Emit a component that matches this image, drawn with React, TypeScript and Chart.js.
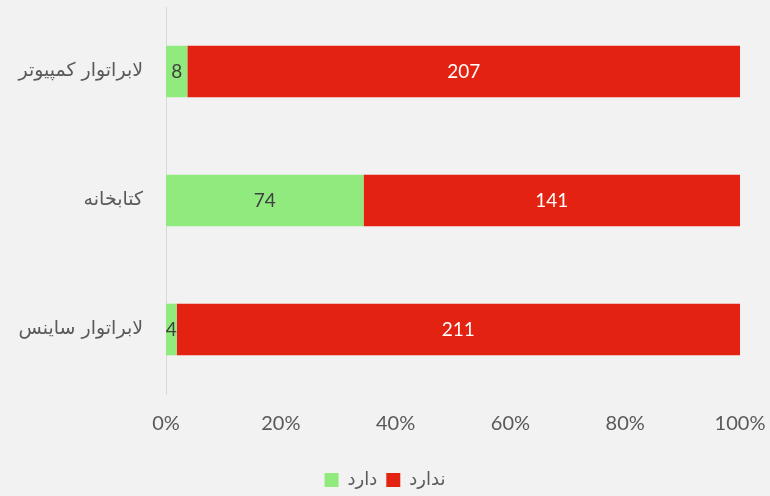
import React, { useEffect, useRef } from "react";
import { Chart, registerables } from "chart.js";

Chart.register(...registerables);

const categories = ["لابراتوار کمپیوتر", "کتابخانه", "لابراتوار ساینس"];
const hasValues = [8, 74, 4];
const notHasValues = [207, 141, 211];
const seriesNames = ["دارد", "ندارد"];
const xTicks = [0, 20, 40, 60, 80, 100];

const GREEN = "#90EA7E";
const RED = "#E42211";
const TEXT = "#595959";

const totals = hasValues.map((v, i) => v + notHasValues[i]);
const pct = (arr: number[]) => arr.map((v, i) => (v / totals[i]) * 100);

const labelPlugin = {
  id: "segLabels",
  afterLayout(chart: any) {
    if (chart.legend) {
      chart.legend.left += 15;
      chart.legend.right += 15;
      chart.legend.top += 3;
      chart.legend.bottom += 3;
    }
  },
  afterDatasetsDraw(chart: any) {
    const ctx = chart.ctx;
    const raw = [hasValues, notHasValues];
    chart.data.datasets.forEach((ds: any, di: number) => {
      const meta = chart.getDatasetMeta(di);
      meta.data.forEach((el: any, i: number) => {
        const cx = (el.x + el.base) / 2;
        ctx.save();
        ctx.font = "19px Lato, 'DejaVu Sans', sans-serif";
        ctx.fillStyle = di === 0 ? "#404040" : "#ffffff";
        ctx.textAlign = "center";
        ctx.textBaseline = "middle";
        ctx.fillText(String(raw[di][i]), cx, el.y);
        ctx.restore();
      });
    });
  },
};

export default function App() {
  const ref = useRef<HTMLCanvasElement>(null);
  useEffect(() => {
    const chart = new Chart(ref.current!, {
      type: "bar",
      data: {
        labels: categories,
        datasets: [
          { label: seriesNames[0], data: pct(hasValues), backgroundColor: GREEN, barPercentage: 0.4, categoryPercentage: 1 },
          { label: seriesNames[1], data: pct(notHasValues), backgroundColor: RED, barPercentage: 0.4, categoryPercentage: 1 },
        ],
      },
      options: {
        indexAxis: "y",
        animation: false,
        responsive: false,
        maintainAspectRatio: false,
        layout: { padding: { top: 7, right: 30, left: 0, bottom: 0 } },
        scales: {
          x: {
            stacked: true,
            min: 0,
            max: 100,
            afterBuildTicks: (s: any) => {
              s.ticks = xTicks.map((v) => ({ value: v }));
            },
            afterFit: (s: any) => {
              s.height = 65;
              s.paddingLeft = 0;
              s.paddingRight = 0;
            },
            grid: { display: false, drawTicks: false },
            border: { display: false },
            ticks: {
              padding: 18,
              color: TEXT,
              font: { family: "Lato, 'DejaVu Sans', sans-serif", size: 20 },
              callback: (v: any) => v + "%",
              maxRotation: 0,
            },
          },
          y: {
            stacked: true,
            afterFit: (s: any) => {
              s.width = 166;
              s.paddingTop = 0;
              s.paddingBottom = 0;
            },
            grid: { display: false, drawTicks: false },
            border: { display: true, color: "#d9d9d9", width: 1 },
            ticks: {
              padding: 23,
              color: TEXT,
              font: { family: "'DejaVu Sans', sans-serif", size: 19 },
            },
          },
        },
        plugins: {
          legend: {
            position: "bottom",
            labels: {
              boxWidth: 14,
              boxHeight: 14,
              padding: 9,
              color: TEXT,
              font: { family: "'DejaVu Sans', sans-serif", size: 18 },
            },
          },
          tooltip: { enabled: false },
        },
      },
      plugins: [labelPlugin],
    } as any);
    return () => chart.destroy();
  }, []);
  return (
    <div style={{ position: "fixed", left: 0, top: 0, width: 770, height: 496, background: "#f2f2f2" }}>
      <canvas ref={ref} width={770} height={496} style={{ display: "block" }} />
    </div>
  );
}
